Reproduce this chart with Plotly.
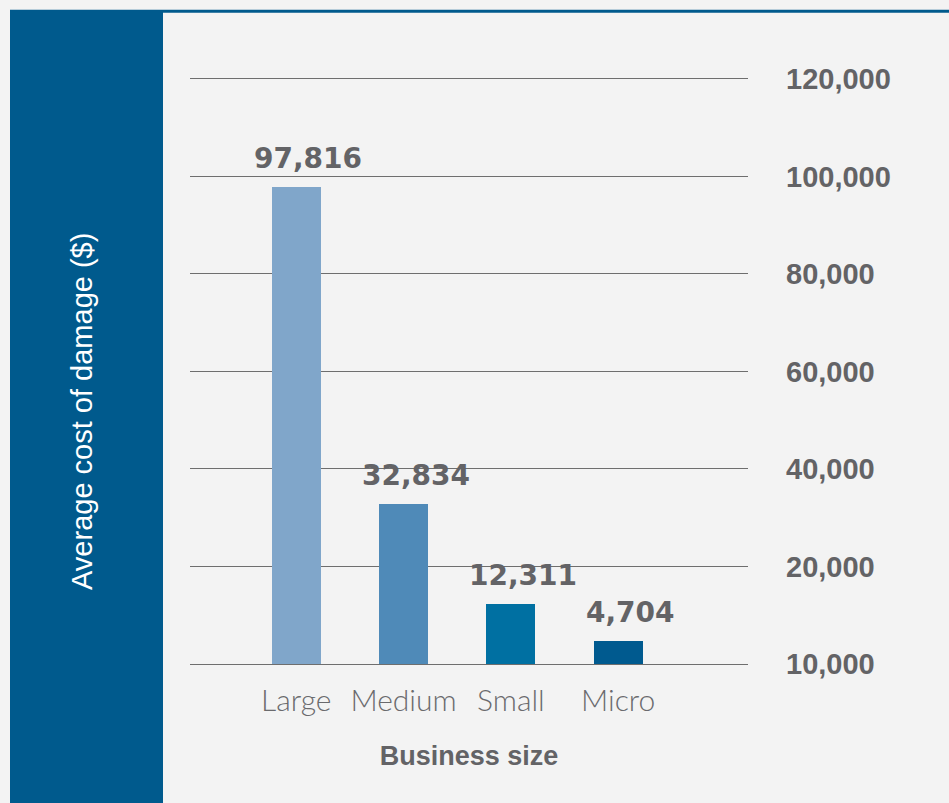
import plotly.graph_objects as go

# Average cost of damage by business size
categories = ["Large", "Medium", "Small", "Micro"]
values = [97816, 32834, 12311, 4704]
value_labels = ["97,816", "32,834", "12,311", "4,704"]
bar_colors = ["#80a6ca", "#4f8ab8", "#0070a2", "#005a8f"]

tick_vals = [0, 20000, 40000, 60000, 80000, 100000, 120000]
tick_text = ["10,000", "20,000", "40,000", "60,000", "80,000", "100,000", "120,000"]

Y_TOP = 121000  # a little headroom so the 120,000 gridline is drawn

W, H = 949, 803
ML, MR, MB = 190, 201, 139
MT = 79 - (Y_TOP - 120000) * 585 / 120000
PW, PH = W - ML - MR, H - MT - MB

BLUE = "#005a8d"
GRAY = "#636366"


def px_x(p):
    return (p - ML) / PW


def px_y(p):
    return (H - MB - p) / PH


fig = go.Figure()
fig.add_trace(go.Bar(
    x=list(range(len(categories))),
    y=values,
    marker=dict(color=bar_colors, line=dict(width=0)),
    width=0.457,
    hoverinfo="skip",
))

# value labels above each bar
for i, (v, lab) in enumerate(zip(values, value_labels)):
    fig.add_annotation(
        x=i, y=v, text=lab, showarrow=False, xanchor="center", yanchor="bottom",
        xshift=12, yshift=10,
        font=dict(family="DejaVu Sans", size=28, color=GRAY, weight="bold"),
    )

# left band with the value-axis title
fig.add_shape(type="rect", xref="paper", yref="paper",
              x0=px_x(10), x1=px_x(163), y0=px_y(10), y1=px_y(H + 5),
              fillcolor=BLUE, line=dict(width=0), layer="below")
fig.add_shape(type="rect", xref="paper", yref="paper",
              x0=px_x(163), x1=px_x(W + 5), y0=px_y(10), y1=px_y(13),
              fillcolor=BLUE, line=dict(width=0), layer="below")
fig.add_annotation(
    xref="paper", yref="paper", x=px_x(82), y=px_y(412),
    xanchor="center", yanchor="middle",
    text="Average cost of damage ($)", textangle=-90, showarrow=False,
    font=dict(family="Liberation Sans", size=29, color="white"),
)

fig.update_layout(
    width=W, height=H,
    margin=dict(l=ML, r=MR, t=MT, b=MB),
    paper_bgcolor="#f3f3f3",
    plot_bgcolor="rgba(0,0,0,0)",
    showlegend=False,
    bargap=0,
    xaxis=dict(
        range=[-0.99, 4.21],
        tickmode="array", tickvals=list(range(len(categories))), ticktext=categories,
        showgrid=False, zeroline=False, showline=False,
        ticks="", ticklabelstandoff=16,
        tickfont=dict(family="Lato", size=30, color="#6a6a6d", weight=300),
        title=dict(text="Business size", standoff=30,
                   font=dict(family="Liberation Sans", size=27, color=GRAY, weight="bold")),
        fixedrange=True,
    ),
    yaxis=dict(
        range=[0, Y_TOP], side="right",
        tickmode="array", tickvals=tick_vals, ticktext=tick_text,
        showgrid=True, gridcolor="#6e6e6e", gridwidth=1,
        zeroline=True, zerolinecolor="#6e6e6e", zerolinewidth=1,
        showline=False, ticks="", ticklabelstandoff=37,
        tickfont=dict(family="Liberation Sans", size=29, color=GRAY, weight="bold"),
        fixedrange=True,
    ),
)

fig.write_html("out.html")
